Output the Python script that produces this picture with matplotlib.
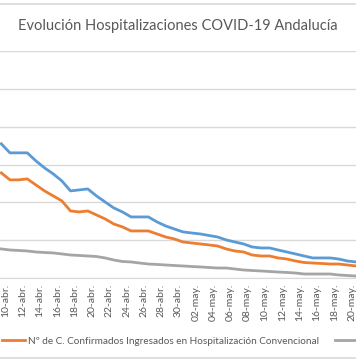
import matplotlib
matplotlib.use("Agg")
import matplotlib.pyplot as plt
import matplotlib.transforms as mtransforms
from matplotlib.lines import Line2D

# ---- data (days from 09-abr to 20-may) ----
dates = ["09-abr.", "10-abr.", "11-abr.", "12-abr.", "13-abr.", "14-abr.", "15-abr.", "16-abr.",
         "17-abr.", "18-abr.", "19-abr.", "20-abr.", "21-abr.", "22-abr.", "23-abr.", "24-abr.",
         "25-abr.", "26-abr.", "27-abr.", "28-abr.", "29-abr.", "30-abr.", "01-may.", "02-may.",
         "03-may.", "04-may.", "05-may.", "06-may.", "07-may.", "08-may.", "09-may.", "10-may.",
         "11-may.", "12-may.", "13-may.", "14-may.", "15-may.", "16-may.", "17-may.", "18-may.",
         "19-may.", "20-may."]

total_hosp = [1773, 1654, 1654, 1654, 1548, 1455, 1376, 1283, 1151, 1164, 1177, 1085, 1005, 926,
              873, 807, 807, 807, 741, 688, 648, 609, 595, 582, 562, 542, 503, 476, 450, 410,
              397, 397, 370, 344, 318, 291, 265, 265, 265, 251, 225, 212]

conv_hosp = [1389, 1297, 1297, 1310, 1230, 1151, 1085, 1019, 886, 873, 886, 833, 781, 714,
             675, 622, 622, 622, 582, 542, 516, 476, 463, 450, 437, 423, 384, 357, 344, 304,
             291, 291, 265, 251, 225, 205, 198, 192, 185, 185, 172, 159]

uci_hosp = [384, 370, 364, 357, 344, 337, 331, 318, 304, 298, 291, 284, 265, 238,
            218, 212, 198, 185, 179, 172, 165, 159, 152, 146, 139, 132, 132, 119, 106, 99,
            93, 86, 79, 73, 66, 53, 53, 53, 53, 40, 33, 26]

label_conv = "Nº de C. Confirmados Ingresados en Hospitalización Convencional"
label_uci = "Nº de C. Confirmados Ingresados en UCI"
label_total = "Total hospitalizados"
title = "Evolución Hospitalizaciones COVID-19 Andalucía"

plt.rcParams['font.family'] = ['Lato', 'DejaVu Sans']

W, H = 356, 364
fig = plt.figure(figsize=(W / 100, H / 100), dpi=100)

# axes: bottom at y=278 px, top at y=51 px; spans full width (chart is cropped)
ax = fig.add_axes([0, 1 - 278 / H, 1, (278 - 51) / H])
x = list(range(len(dates)))
c_blue, c_orange, c_gray = "#5B9BD5", "#ED7D31", "#A5A5A5"
ax.plot(x, total_hosp, color=c_blue, lw=2.0, solid_joinstyle="round")
ax.plot(x, conv_hosp, color=c_orange, lw=2.0, solid_joinstyle="round", label=label_conv)
ax.plot(x, uci_hosp, color=c_gray, lw=2.0, solid_joinstyle="round", label=label_uci)

# pixel mapping: index 1 (10-abr) at x=10 px, 8.7 px per day
x0 = 1 - 10 / 8.7
ax.set_xlim(x0, x0 + W / 8.7)
ax.set_ylim(0, 3000)
ax.set_yticks(range(0, 3001, 500))
ax.yaxis.grid(True, color="#D9D9D9", lw=1.0)
ax.set_axisbelow(True)
for s in ["top", "left", "right"]:
    ax.spines[s].set_visible(False)
ax.spines["bottom"].set_color("#D9D9D9")
ax.tick_params(axis="y", left=False, labelleft=False)

tick_idx = list(range(1, len(dates), 2))
ax.set_xticks(tick_idx)
ax.set_xticklabels([dates[i] for i in tick_idx], rotation=90, fontsize=7.5,
                   color="#595959", va="top", ha="center")
ax.tick_params(axis="x", length=0, pad=4)
offset = mtransforms.ScaledTranslation(-4.5 / 100, 0, fig.dpi_scale_trans)
for lab in ax.get_xticklabels():
    lab.set_transform(lab.get_transform() + offset)

# title
fig.text(178 / W, 1 - 26 / H, title, ha="center", va="center", fontsize=10.5, color="#595959")

# frame lines (chart borders)
fig.add_artist(Line2D([0, 1], [1 - 4 / H, 1 - 4 / H], color="#D9D9D9", lw=1.2))
fig.add_artist(Line2D([0, 1], [1 - 358 / H, 1 - 358 / H], color="#D9D9D9", lw=1.2))

# legend
leg = fig.legend(handles=ax.get_lines()[1:], labels=[label_conv, label_uci], ncol=2,
                 loc="center left", bbox_to_anchor=(2 / W, 1 - 341 / H),
                 frameon=False, fontsize=7.2, handlelength=2.3, handletextpad=0.3,
                 columnspacing=1.6, borderaxespad=0, borderpad=0)
for t in leg.get_texts():
    t.set_color("#595959")

fig.savefig("out.png", dpi=100)
